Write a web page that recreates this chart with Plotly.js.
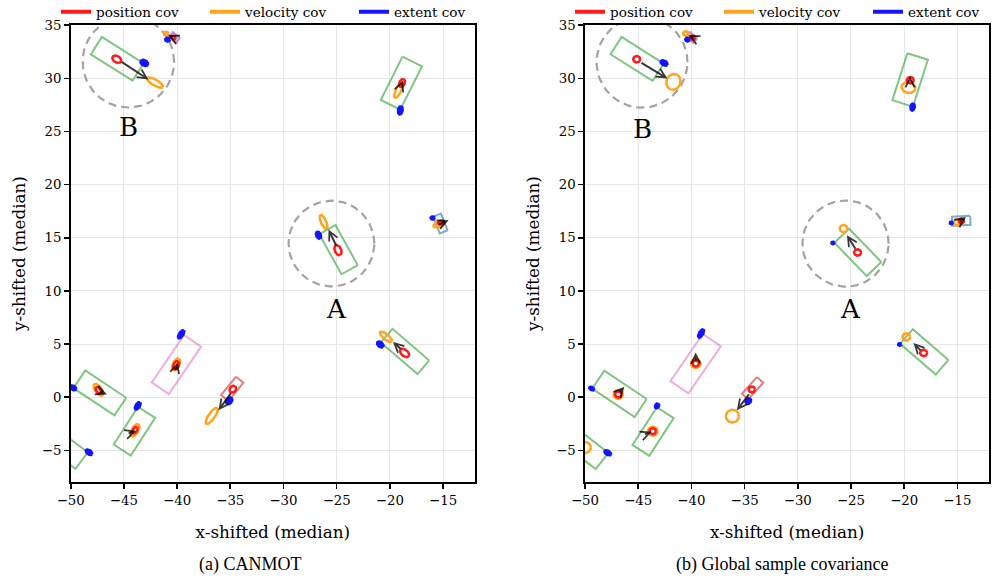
<!DOCTYPE html>
<html><head><meta charset="utf-8">
<script src="https://cdn.plot.ly/plotly-3.0.1.min.js"></script>
<style>html,body{margin:0;padding:0;background:#fff;overflow:hidden}</style>
</head><body><div id="chart" style="width:1008px;height:579px"></div>
<script>
// ---------- DATA ----------
// boxes: [cx, cy, length, width, headingDeg, class]
const boxesCANMOT = [
  [-45.63, 31.84, 4.64, 1.94, -32.3, 'car'],
  [-40.25, 33.85, 0.90, 0.60, -40.0, 'motorcycle'],
  [-18.92, 29.55, 4.56, 2.04, 63.4, 'car'],
  [-24.83, 13.88, 4.31, 1.75, -60.9, 'car'],
  [-15.26, 16.35, 1.70, 0.80, -68.0, 'pedestrian'],
  [-18.58, 4.31, 4.56, 1.69, -40.8, 'car'],
  [-40.06, 3.08, 5.39, 1.94, 55.7, 'truck'],
  [-47.26, 0.41, 4.63, 2.00, -33.7, 'car'],
  [-44.01, -3.19, 4.22, 1.91, 57.1, 'car'],
  [-34.82, 0.79, 2.23, 0.89, 50.7, 'bicycle'],
  [-50.77, -4.60, 4.50, 1.94, -37.0, 'car']
];
const boxesGlobal = [
  [-45.10, 31.83, 4.68, 1.94, -32.4, 'car'],
  [-39.97, 33.85, 0.90, 0.60, -40.0, 'motorcycle'],
  [-19.44, 29.85, 4.64, 2.02, 72.3, 'car'],
  [-24.35, 13.63, 4.36, 1.91, -45.9, 'car'],
  [-14.64, 16.60, 1.72, 0.85, 3.0, 'pedestrian'],
  [-18.11, 4.27, 4.42, 1.82, -40.8, 'car'],
  [-39.60, 3.16, 5.37, 2.05, 55.5, 'truck'],
  [-46.76, 0.32, 4.80, 2.03, -33.7, 'car'],
  [-43.60, -3.22, 4.22, 1.88, 57.1, 'car'],
  [-34.25, 0.85, 2.11, 0.80, 48.0, 'bicycle'],
  [-50.18, -4.62, 4.50, 1.94, -37.7, 'car']
];
// covariance ellipses: [cx, cy, semiMajor, semiMinor, angleDeg]
const posCovCANMOT = [
  [-45.67, 31.80, 0.45, 0.30, -30], [-40.35, 33.84, 0.22, 0.16, -30],
  [-18.86, 29.57, 0.40, 0.25, 65], [-24.88, 13.83, 0.50, 0.30, -67],
  [-15.20, 16.45, 0.28, 0.18, 20], [-18.62, 4.17, 0.50, 0.30, -40],
  [-40.09, 3.02, 0.40, 0.25, 65], [-47.40, 0.66, 0.35, 0.20, -55],
  [-43.95, -3.10, 0.35, 0.20, 60], [-34.76, 0.76, 0.35, 0.28, 50]
];
const velCovCANMOT = [
  [-42.07, 29.60, 0.85, 0.28, -30], [-41.03, 34.20, 0.22, 0.18, 0],
  [-19.18, 28.90, 0.80, 0.25, 65], [-26.24, 16.50, 0.70, 0.25, -67],
  [-15.42, 16.25, 0.50, 0.25, 20], [-20.37, 5.68, 0.70, 0.25, -40],
  [-40.09, 3.10, 0.60, 0.30, 65], [-47.40, 0.70, 0.65, 0.30, -56],
  [-43.95, -3.10, 0.65, 0.30, 60], [-36.74, -1.75, 0.90, 0.30, 55]
];
const extCovCANMOT = [
  [-43.08, 31.45, 0.38, 0.26, -30], [-40.90, 33.65, 0.22, 0.18, 0],
  [-19.02, 27.00, 0.40, 0.22, 80], [-26.71, 15.25, 0.35, 0.22, -67],
  [-15.98, 16.87, 0.20, 0.15, 0], [-20.90, 4.96, 0.35, 0.22, -40],
  [-39.62, 5.93, 0.45, 0.20, 56], [-49.76, 0.88, 0.30, 0.20, -34],
  [-43.70, -0.81, 0.40, 0.20, 57], [-35.10, -0.34, 0.35, 0.25, 50],
  [-48.28, -5.17, 0.35, 0.20, -37]
];
const posCovGlobal = [
  [-45.14, 31.80, 0.33, 0.30, 0], [-39.87, 33.84, 0.22, 0.20, 0],
  [-19.43, 29.83, 0.33, 0.30, 0], [-24.38, 13.62, 0.33, 0.30, 0],
  [-14.62, 16.59, 0.25, 0.22, 0], [-18.17, 4.17, 0.33, 0.30, 0],
  [-39.59, 3.17, 0.30, 0.28, 0], [-46.87, 0.26, 0.30, 0.28, 0],
  [-43.63, -3.19, 0.30, 0.28, 0], [-34.32, 0.73, 0.30, 0.28, 0]
];
const velCovGlobal = [
  [-41.69, 29.67, 0.75, 0.66, 70], [-40.53, 34.22, 0.25, 0.22, 0],
  [-19.59, 29.14, 0.66, 0.50, -10], [-25.70, 15.87, 0.36, 0.34, 0],
  [-15.03, 16.44, 0.30, 0.28, 0], [-19.80, 5.68, 0.36, 0.34, 0],
  [-39.59, 3.17, 0.45, 0.42, 0], [-46.87, 0.26, 0.45, 0.42, 0],
  [-43.63, -3.19, 0.45, 0.42, 0], [-36.14, -1.78, 0.62, 0.60, 0],
  [-50.00, -4.73, 0.55, 0.52, 0]
];
const extCovGlobal = [
  [-42.57, 31.45, 0.35, 0.22, -30], [-40.38, 33.65, 0.20, 0.18, 0],
  [-19.21, 27.31, 0.35, 0.20, 80], [-26.70, 14.52, 0.15, 0.12, 0],
  [-15.57, 16.40, 0.15, 0.12, 0], [-20.43, 4.96, 0.15, 0.12, 0],
  [-39.09, 6.00, 0.45, 0.20, 60], [-49.37, 0.82, 0.25, 0.15, -30],
  [-43.23, -0.81, 0.25, 0.18, 57], [-34.64, -0.37, 0.30, 0.22, 50],
  [-47.86, -5.23, 0.35, 0.20, -30]
];
// velocity arrows: [x0, y0, x1, y1] (tail -> head)
const arrowsCANMOT = [
  [-45.36, 31.65, -42.70, 29.90], [-40.35, 33.84, -40.85, 34.08],
  [-19.00, 29.20, -18.75, 29.80], [-24.98, 14.14, -25.77, 15.78],
  [-15.57, 16.19, -14.48, 16.66], [-18.86, 4.43, -19.71, 5.21],
  [-40.20, 2.40, -39.95, 3.30], [-47.40, 0.60, -46.60, 0.25],
  [-44.70, -3.45, -43.85, -3.15], [-34.85, 0.50, -36.11, -1.22]
];
const arrowsGlobal = [
  [-44.83, 31.55, -42.26, 29.99], [-39.65, 33.75, -40.28, 34.06],
  [-19.45, 29.60, -19.45, 30.20], [-24.50, 13.83, -25.38, 15.25],
  [-14.90, 16.45, -14.20, 16.95], [-18.33, 4.27, -19.12, 5.11],
  [-39.59, 3.30, -39.60, 4.20], [-46.87, 0.35, -46.30, 1.00],
  [-44.50, -3.55, -43.75, -3.25], [-34.48, 0.41, -35.73, -1.22]
];
// highlighted regions: [label, cx, cy, radius, labelX, labelY]
const regionsCANMOT = [['B', -44.58, 31.56, 4.30, -44.58, 25.43], ['A', -25.49, 14.46, 4.03, -24.98, 8.35]];
const regionsGlobal = [['B', -44.64, 31.52, 4.27, -44.57, 25.28], ['A', -25.51, 14.46, 4.05, -25.00, 8.35]];
const xTicks = [-50, -45, -40, -35, -30, -25, -20, -15];
const yTicks = [-5, 0, 5, 10, 15, 20, 25, 30, 35];
const legendNames = ['position cov', 'velocity cov', 'extent cov'];
const captions = ['(a) CANMOT', '(b) Global sample covariance'];

// ---------- STYLE ----------
const classColor = {
  car: 'rgba(44,160,44,0.6)', truck: 'rgba(227,119,194,0.6)', bicycle: 'rgba(214,39,40,0.6)',
  pedestrian: 'rgba(31,119,180,0.6)', motorcycle: 'rgba(148,103,189,0.6)'
};
const covColor = ['#ff1a1a', '#ffa41c', '#1414ff'];
const SERIF = 'DejaVu Serif';

function rot(cx, cy, dx, dy, ang) {
  const r = ang * Math.PI / 180, c = Math.cos(r), s = Math.sin(r);
  return [cx + dx * c - dy * s, cy + dx * s + dy * c];
}
function rectTrace(b, xa, ya) {
  const [cx, cy, L, W, ang, cls] = b;
  const xs = [], ys = [];
  [[1, 1], [1, -1], [-1, -1], [-1, 1], [1, 1]].forEach(([i, j]) => {
    const p = rot(cx, cy, i * L / 2, j * W / 2, ang); xs.push(p[0]); ys.push(p[1]);
  });
  const t = {x: xs, y: ys, xaxis: xa, yaxis: ya, mode: 'lines', type: 'scatter',
    line: {color: classColor[cls], width: 2}, hoverinfo: 'skip', showlegend: false};
  if (cls === 'motorcycle') { t.fill = 'toself'; t.fillcolor = 'rgba(148,103,189,0.35)'; }
  return t;
}
function ellTrace(e, color, xa, ya, filled) {
  const [cx, cy, a, b, ang] = e;
  const xs = [], ys = [];
  for (let k = 0; k <= 72; k++) {
    const t = 2 * Math.PI * k / 72;
    const p = rot(cx, cy, a * Math.cos(t), b * Math.sin(t), ang); xs.push(p[0]); ys.push(p[1]);
  }
  const tr = {x: xs, y: ys, xaxis: xa, yaxis: ya, mode: 'lines', type: 'scatter',
    line: {color: color, width: 2.5}, hoverinfo: 'skip', showlegend: false};
  if (filled) { tr.fill = 'toself'; tr.fillcolor = color; }
  return tr;
}
function circleTrace(r, xa, ya) {
  const [, cx, cy, rad] = r;
  const xs = [], ys = [];
  for (let k = 0; k <= 120; k++) {
    const t = 2 * Math.PI * k / 120; xs.push(cx + rad * Math.cos(t)); ys.push(cy + rad * Math.sin(t));
  }
  return {x: xs, y: ys, xaxis: xa, yaxis: ya, mode: 'lines', type: 'scatter',
    line: {color: '#a3a3a3', width: 2.2, dash: '8px,5px'}, hoverinfo: 'skip', showlegend: false};
}

const traces = [];
const annotations = [];
function buildPanel(boxes, pos, vel, ext, arrows, regions, xa, ya, legendId) {
  boxes.forEach(b => traces.push(rectTrace(b, xa, ya)));
  regions.forEach(r => traces.push(circleTrace(r, xa, ya)));
  vel.forEach(e => traces.push(ellTrace(e, covColor[1], xa, ya, false)));
  pos.forEach(e => traces.push(ellTrace(e, covColor[0], xa, ya, false)));
  ext.forEach(e => traces.push(ellTrace(e, covColor[2], xa, ya, true)));
  arrows.forEach(a => annotations.push({
    x: a[2], y: a[3], ax: a[0], ay: a[1], xref: xa, yref: ya, axref: xa, ayref: ya,
    text: '', showarrow: true, arrowhead: 5, arrowsize: 0.9, arrowwidth: 2,
    arrowcolor: 'rgba(0,0,0,0.78)', standoff: 0, startstandoff: 0
  }));
  regions.forEach(r => annotations.push({
    x: r[4], y: r[5], xref: xa, yref: ya, text: r[0], showarrow: false,
    font: {family: SERIF, size: 26, color: '#000'}
  }));
  legendNames.forEach((n, i) => traces.push({
    x: [null], y: [null], xaxis: xa, yaxis: ya, type: 'scatter', mode: 'lines', name: n,
    line: {color: covColor[i], width: 4}, legend: legendId, showlegend: true, hoverinfo: 'skip',
    legendwidth: i === 2 ? 70 : undefined
  }));
}
buildPanel(boxesCANMOT, posCovCANMOT, velCovCANMOT, extCovCANMOT, arrowsCANMOT, regionsCANMOT, 'x', 'y', 'legend');
buildPanel(boxesGlobal, posCovGlobal, velCovGlobal, extCovGlobal, arrowsGlobal, regionsGlobal, 'x2', 'y2', 'legend2');

const W = 1008, H = 579;
const yDom = [(H - 482.3) / H, (H - 24.7) / H];
const xDomA = [70.7 / W, 475 / W];
const xDomB = [585 / W, 989.3 / W];
const tickFont = {family: SERIF, size: 13.3, color: '#000'};
const fmt = v => (v < 0 ? '\u2212' + Math.abs(v) : String(v));
function xAxis(dom, anchor) {
  return {domain: dom, anchor: anchor, range: [-50, -12], tickvals: xTicks, ticktext: xTicks.map(fmt),
    ticks: 'outside', ticklen: 5, tickwidth: 1.6, tickcolor: '#000', showline: true, mirror: true,
    linecolor: '#000', linewidth: 1.6, showgrid: true, gridcolor: '#e6e6e6', gridwidth: 1,
    zeroline: false, tickfont: tickFont, fixedrange: true, automargin: false,
    title: {text: 'x-shifted (median)', font: {family: SERIF, size: 16.8, color: '#000'}, standoff: 19}};
}
function yAxis(dom, anchor) {
  return {domain: dom, anchor: anchor, range: [-8, 35.05], tickvals: yTicks, ticktext: yTicks.map(fmt),
    ticks: 'outside', ticklen: 5, tickwidth: 1.6, tickcolor: '#000', showline: true, mirror: true,
    linecolor: '#000', linewidth: 1.6, showgrid: true, gridcolor: '#e6e6e6', gridwidth: 1,
    zeroline: false, tickfont: tickFont, fixedrange: true, automargin: false,
    title: {text: 'y-shifted (median)', font: {family: SERIF, size: 16.8, color: '#000'}, standoff: 12}};
}
captions.forEach((c, i) => annotations.push({
  x: (i === 0 ? 249.5 : 782) / W, y: (H - 564) / H, xref: 'paper', yref: 'paper', text: c,
  showarrow: false, font: {family: 'Liberation Serif', size: 18, color: '#000'}, xanchor: 'center', yanchor: 'middle'
}));
const legendBase = {orientation: 'h', y: 1.006, yanchor: 'top', xanchor: 'left', bgcolor: 'rgba(0,0,0,0)',
  font: {family: SERIF, size: 13.6, color: '#000'}, entrywidth: 104, entrywidthmode: 'pixels',
  itemclick: false, itemdoubleclick: false};
const layout = {
  width: W, height: H, margin: {l: 0, r: 0, t: 0, b: 0, autoexpand: false}, paper_bgcolor: '#fff', plot_bgcolor: '#fff',
  showlegend: true,
  xaxis: xAxis(xDomA, 'y'), yaxis: yAxis(yDom, 'x'),
  xaxis2: xAxis(xDomB, 'y2'), yaxis2: yAxis(yDom, 'x2'),
  legend: Object.assign({}, legendBase, {x: 56 / W}),
  legend2: Object.assign({}, legendBase, {x: 570 / W}),
  annotations: annotations
};
Plotly.newPlot('chart', traces, layout, {staticPlot: true, displayModeBar: false});
</script></body></html>
